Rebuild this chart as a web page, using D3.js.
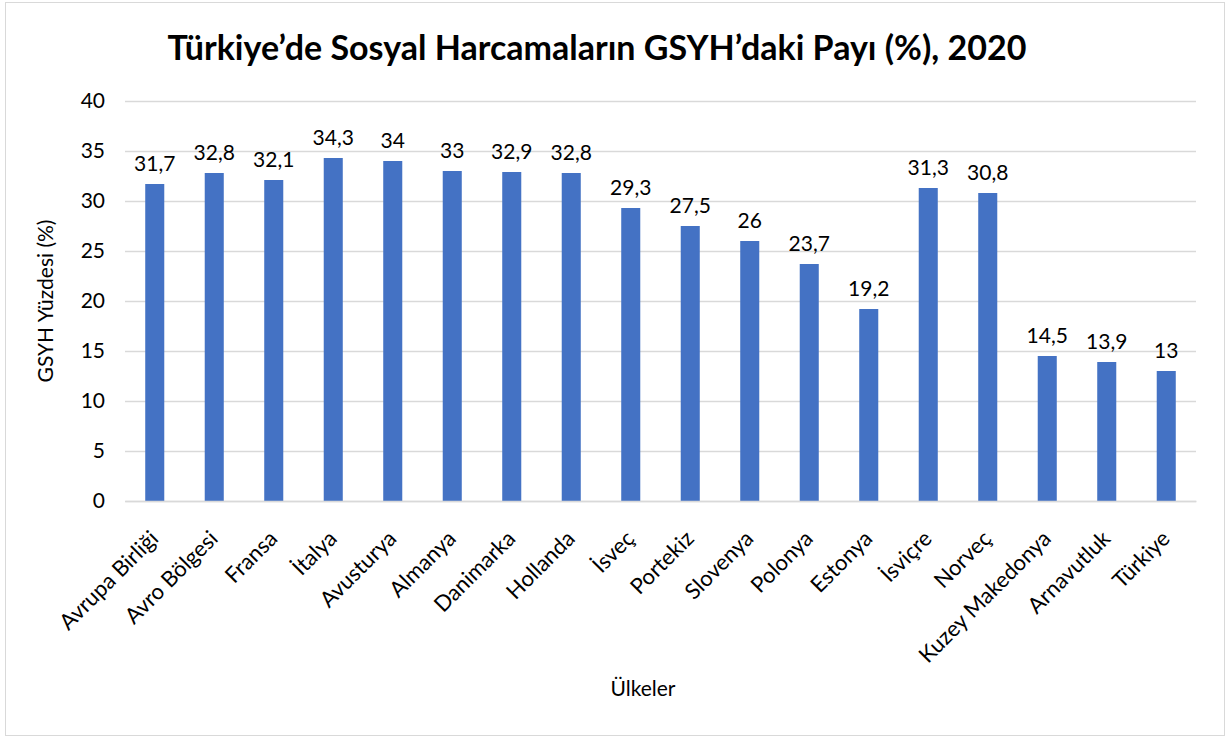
<!doctype html>
<html>
  <head>
    <meta charset="utf-8"/>
    <title>Türkiye'de Sosyal Harcamalar</title>
    <style>
      body, html {
        margin: 0;
        padding: 0;
        background: #fff;
      }
      svg {
        font-family: "Lato", "Open Sans", sans-serif;
        display: block;
      }
    </style>
    <script src="https://d3js.org/d3.v7.min.js"></script>
  </head>
  <body>
    <svg id="chart" width="1227" height="738"></svg>
    <script>
      var countries = ["Avrupa Birliği", "Avro Bölgesi", "Fransa", "İtalya", "Avusturya", "Almanya",
        "Danimarka", "Hollanda", "İsveç", "Portekiz", "Slovenya", "Polonya", "Estonya",
        "İsviçre", "Norveç", "Kuzey Makedonya", "Arnavutluk", "Türkiye"];
      var shares = [31.7, 32.8, 32.1, 34.3, 34, 33, 32.9, 32.8, 29.3, 27.5, 26, 23.7, 19.2,
        31.3, 30.8, 14.5, 13.9, 13];
      var yTicks = [0, 5, 10, 15, 20, 25, 30, 35, 40];

      var svg = d3.select("#chart");
      var plotLeft = 125, plotRight = 1196, plotTop = 101, plotBottom = 501;

      // outer frame
      svg.append("rect")
        .attr("x", 5.5).attr("y", 2.5)
        .attr("width", 1219).attr("height", 733)
        .attr("fill", "#fff")
        .attr("stroke", "#d9d9d9");

      var x = d3.scaleBand()
        .domain(countries)
        .range([plotLeft, plotRight])
        .paddingInner(0.68)
        .paddingOuter(0.34);

      var y = d3.scaleLinear()
        .domain([0, 40])
        .range([plotBottom, plotTop]);

      var fmt = function(v) { return String(v).replace(".", ","); };

      // gridlines + y labels
      var yAxis = svg.append("g")
        .attr("transform", "translate(" + plotLeft + ",0)")
        .call(d3.axisLeft(y).tickValues(yTicks).tickSize(-(plotRight - plotLeft)).tickPadding(20));
      yAxis.select(".domain").remove();
      yAxis.selectAll(".tick line").attr("stroke", "#d9d9d9").attr("stroke-width", 1.5);
      yAxis.selectAll(".tick text")
        .attr("font-size", 21)
        .attr("fill", "#000")
        .style("font-family", "Lato, sans-serif");

      // bars
      svg.append("g").selectAll("rect")
        .data(shares)
        .join("rect")
          .attr("x", function(d, i) { return x(countries[i]); })
          .attr("y", function(d) { return y(d); })
          .attr("width", x.bandwidth())
          .attr("height", function(d) { return y(0) - y(d); })
          .attr("fill", "#4472c4");

      // value labels
      svg.append("g").selectAll("text")
        .data(shares)
        .join("text")
          .attr("x", function(d, i) { return x(countries[i]) + x.bandwidth() / 2; })
          .attr("y", function(d) { return y(d) - 13; })
          .attr("text-anchor", "middle")
          .attr("font-size", 21)
          .attr("fill", "#000")
          .text(fmt);

      // x axis
      var xAxis = svg.append("g")
        .attr("transform", "translate(0," + plotBottom + ")")
        .call(d3.axisBottom(x).tickSize(0));
      xAxis.select(".domain").attr("stroke", "#d9d9d9").attr("stroke-width", 1.5);
      xAxis.selectAll(".tick text")
        .attr("font-size", 22)
        .attr("fill", "#000")
        .style("font-family", "Lato, sans-serif")
        .attr("text-anchor", "end")
        .attr("dy", 0)
        .attr("y", 0)
        .attr("transform", "translate(5,39) rotate(-45)");

      // titles
      svg.append("text")
        .attr("x", 597).attr("y", 60)
        .attr("text-anchor", "middle")
        .attr("font-size", 34)
        .attr("font-weight", "bold")
        .text("Türkiye’de Sosyal Harcamaların GSYH’daki Payı (%), 2020");

      svg.append("text")
        .attr("transform", "translate(53,301) rotate(-90)")
        .attr("text-anchor", "middle")
        .attr("font-size", 21)
        .text("GSYH Yüzdesi (%)");

      svg.append("text")
        .attr("x", 643).attr("y", 696)
        .attr("text-anchor", "middle")
        .attr("font-size", 21)
        .text("Ülkeler");
    </script>
  </body>
</html>
